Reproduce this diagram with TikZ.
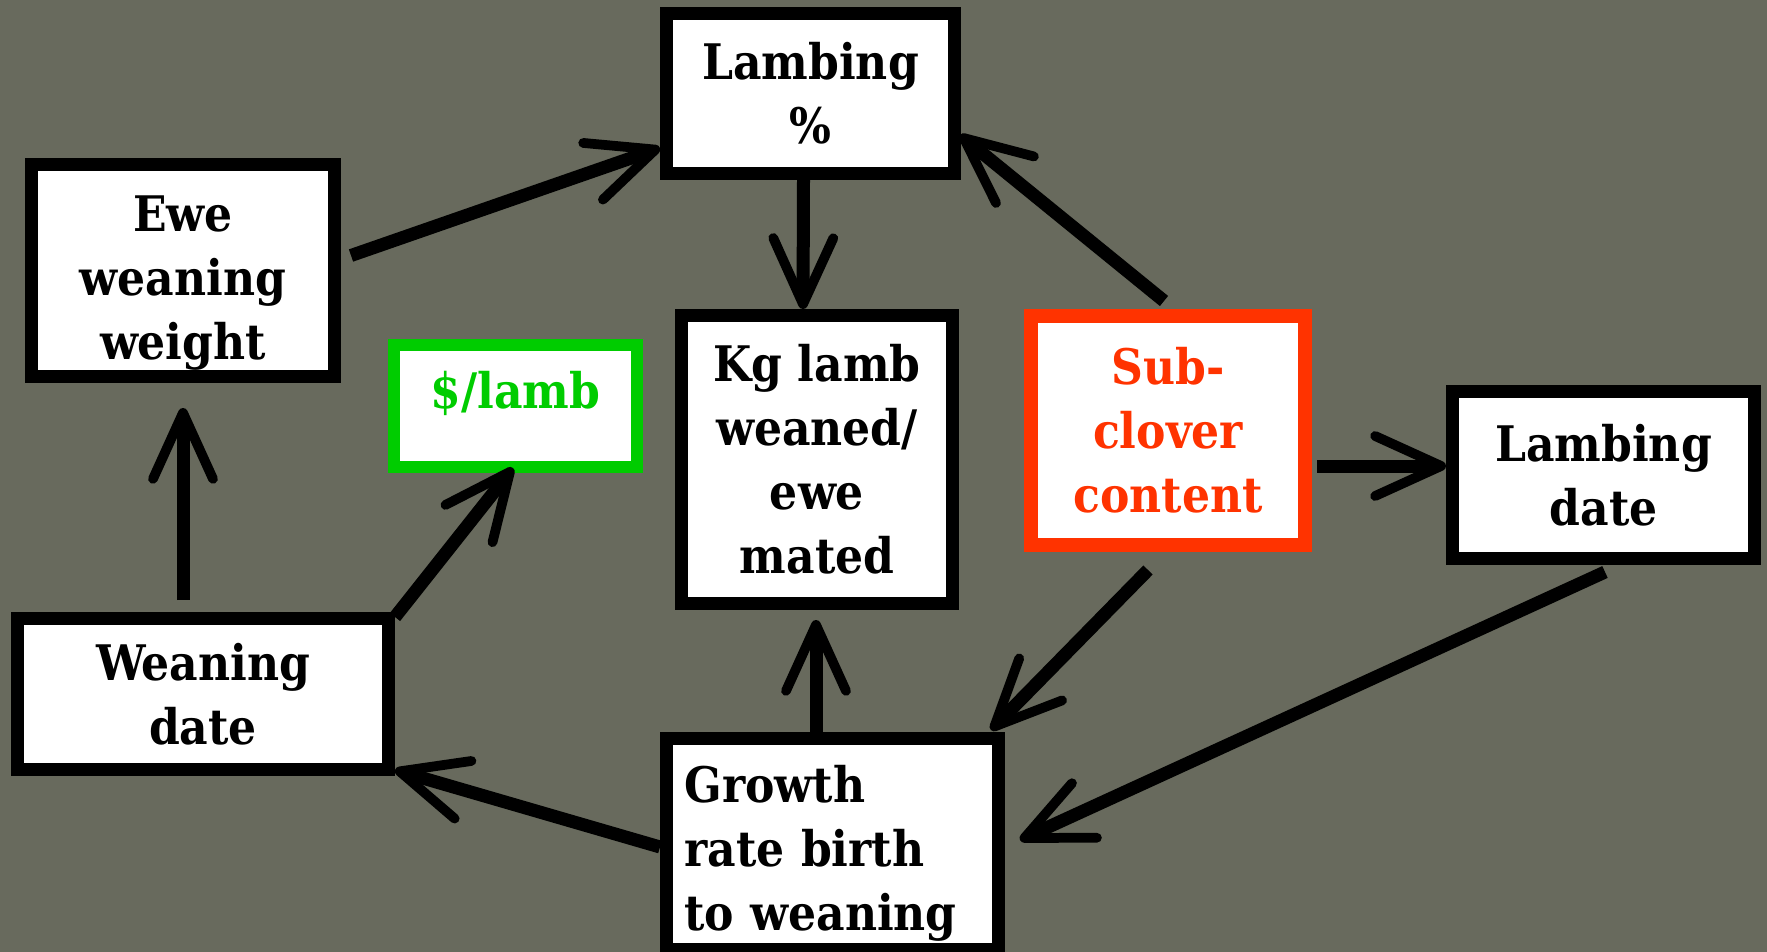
\documentclass[tikz,border=0pt]{standalone}
\usepackage{fontspec}
\setmainfont{DejaVu Serif Condensed}
\usetikzlibrary{arrows.meta,calc,positioning}
\definecolor{slate}{RGB}{104,106,93}
\definecolor{clover}{RGB}{255,51,0}
\definecolor{money}{RGB}{0,204,0}

\begin{document}
\begin{tikzpicture}[x=0.5pt,y=-0.5pt,
  box/.style={draw=black,line width=6.5pt,fill=white,align=center,inner sep=0pt,
    font=\fontsize{24.5}{32}\selectfont\bfseries},
  link/.style={line width=6.5pt,
    -{Straight Barb[length=33pt,width=30pt,line width=0pt 0.75,round]}}]

\fill[slate] (0,0) rectangle (1767,952);
\useasboundingbox (0,0) rectangle (1767,952);

\node[box,minimum width=144pt,minimum height=80pt] (lampct) at (810.5,93.5) {Lambing\\\%};
\node[box,minimum width=151.5pt,minimum height=106pt] (ewe) at (183,270.5) {\rule{0pt}{30pt}Ewe\\weaning\\weight};
\node[box,draw=money,text=money,line width=6pt,minimum width=121.5pt,minimum height=61pt] (dollar) at (515.5,406) {\raisebox{16.5pt}{\$/lamb}};
\node[box,minimum width=135.5pt,minimum height=144pt] (kg) at (817,459.5) {Kg lamb\\weaned/\\ewe\\mated};
\node[box,draw=clover,text=clover,line width=7pt,minimum width=137pt,minimum height=114.5pt] (sub) at (1168,430.5) {Sub-\\clover\\content};
\node[box,minimum width=151pt,minimum height=83.5pt] (lamdate) at (1603.5,475) {Lambing\\date};
\node[box,align=left,text width=148pt,minimum width=166pt,minimum height=105.5pt] (growth) at (832.5,844) {\rule{0pt}{28pt}Growth\\rate birth\\to weaning};
\node[box,minimum width=185.5pt,minimum height=75.5pt] (weaning) at (203,694) {Weaning\\date};

\draw[link] ($(ewe.east)+(10,-15)$) -- ($(lampct.west)+(0,54.5)$);
\draw[link] ($(lampct.south)+(-7,0)$) -- ($(kg.north)+(-14,0)$);
\draw[link] ($(sub.north)+(-4,-8)$) -- ($(lampct.east)+(-1,41.5)$);
\draw[link] ($(sub.east)+(5,35.5)$) -- ($(lamdate.west)+(0,-9)$);
\draw[link] ($(sub.south)+(-20,18)$) -- ($(growth.north east)+(-14,-2)$);
\draw[link] ($(lamdate.south)+(1.5,7)$) -- ($(growth.east)+(15,-4)$);
\draw[link] ($(growth.north)+(-16.5,0)$) -- ($(kg.south)+(-1,10)$);
\draw[link] ($(growth.west)+(0,3)$) -- ($(weaning.south east)+(0,-6)$);
\draw[link] ($(weaning.north)+(-20,-12)$) -- ($(ewe.south)+(0,25)$);
\draw[link] ($(weaning.north east)+(0,5)$) -- ($(dollar.south)+(-2.5,-5)$);

\end{tikzpicture}
\end{document}
